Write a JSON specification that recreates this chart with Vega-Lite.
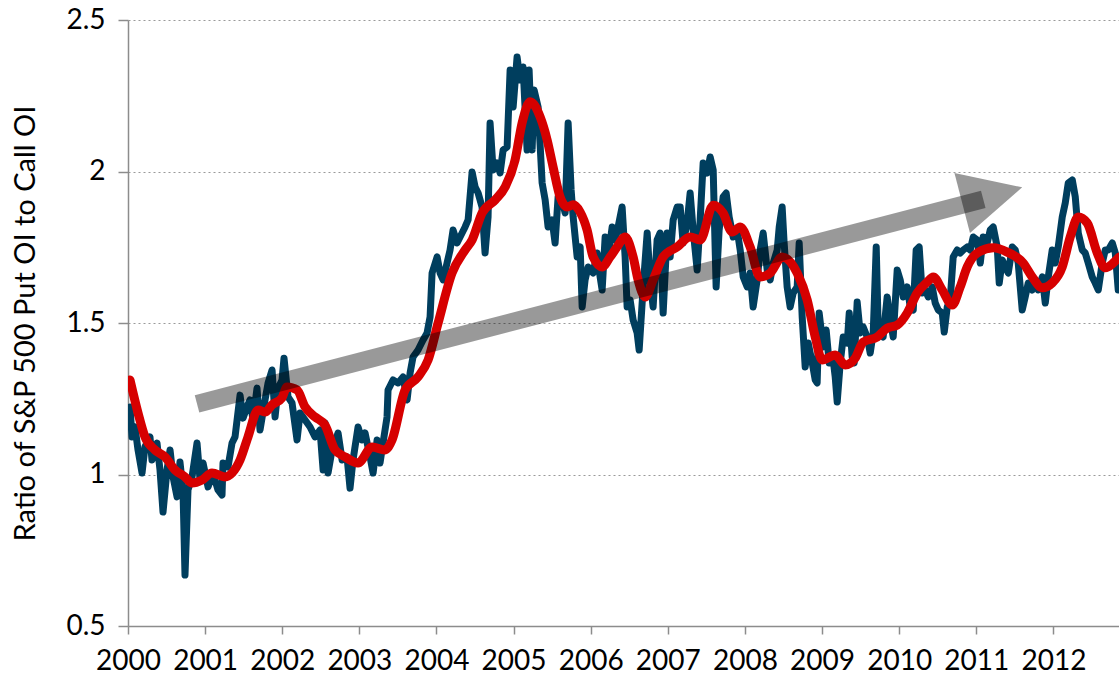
{
  "$schema": "https://vega.github.io/schema/vega-lite/v6.json",
  "width": 991,
  "height": 606,
  "autosize": {"type": "none"},
  "padding": {"left": 128, "top": 20, "right": 0, "bottom": 53},
  "background": "white",
  "config": {
    "view": {"stroke": null},
    "font": "Lato",
    "axis": {"labelFont": "Lato", "titleFont": "Lato", "labelColor": "#000", "titleColor": "#000", "domainColor": "#8c8c8c", "tickColor": "#8c8c8c", "domainWidth": 1.5, "tickWidth": 1.5}
  },
  "datasets": {
    "blue": [
      {"yr":2000.026,"v":1.223},{"yr":2000.052,"v":1.124},{"yr":2000.091,"v":1.157},{"yr":2000.130,"v":1.081},{"yr":2000.182,"v":1.005},{"yr":2000.220,"v":1.091},{"yr":2000.285,"v":1.124},{"yr":2000.311,"v":1.048},{"yr":2000.376,"v":1.104},{"yr":2000.415,"v":1.015},{"yr":2000.454,"v":0.876},{"yr":2000.506,"v":1.015},{"yr":2000.545,"v":1.081},{"yr":2000.584,"v":0.992},{"yr":2000.636,"v":0.926},{"yr":2000.674,"v":1.041},{"yr":2000.713,"v":0.949},{"yr":2000.739,"v":0.668},{"yr":2000.778,"v":0.949},{"yr":2000.830,"v":0.992},{"yr":2000.895,"v":1.104},{"yr":2000.934,"v":0.982},{"yr":2000.973,"v":1.038},{"yr":2001.038,"v":0.959},{"yr":2001.102,"v":1.005},{"yr":2001.167,"v":0.949},{"yr":2001.219,"v":0.932},{"yr":2001.232,"v":1.038},{"yr":2001.297,"v":1.025},{"yr":2001.349,"v":1.104},{"yr":2001.388,"v":1.124},{"yr":2001.453,"v":1.262},{"yr":2001.492,"v":1.186},{"yr":2001.543,"v":1.223},{"yr":2001.582,"v":1.246},{"yr":2001.621,"v":1.180},{"yr":2001.673,"v":1.285},{"yr":2001.712,"v":1.147},{"yr":2001.777,"v":1.246},{"yr":2001.816,"v":1.302},{"yr":2001.868,"v":1.345},{"yr":2001.907,"v":1.190},{"yr":2001.946,"v":1.285},{"yr":2001.997,"v":1.312},{"yr":2002.023,"v":1.384},{"yr":2002.075,"v":1.256},{"yr":2002.127,"v":1.236},{"yr":2002.192,"v":1.114},{"yr":2002.231,"v":1.203},{"yr":2002.296,"v":1.180},{"yr":2002.361,"v":1.157},{"yr":2002.425,"v":1.124},{"yr":2002.490,"v":1.147},{"yr":2002.530,"v":1.015},{"yr":2002.555,"v":1.170},{"yr":2002.594,"v":1.005},{"yr":2002.646,"v":1.081},{"yr":2002.724,"v":1.137},{"yr":2002.776,"v":1.048},{"yr":2002.840,"v":1.058},{"yr":2002.879,"v":0.955},{"yr":2002.918,"v":1.048},{"yr":2002.983,"v":1.157},{"yr":2003.035,"v":1.114},{"yr":2003.074,"v":1.137},{"yr":2003.139,"v":1.058},{"yr":2003.178,"v":1.005},{"yr":2003.230,"v":1.114},{"yr":2003.268,"v":1.038},{"yr":2003.307,"v":1.104},{"yr":2003.359,"v":1.190},{"yr":2003.372,"v":1.279},{"yr":2003.437,"v":1.312},{"yr":2003.502,"v":1.302},{"yr":2003.567,"v":1.322},{"yr":2003.619,"v":1.246},{"yr":2003.658,"v":1.335},{"yr":2003.696,"v":1.388},{"yr":2003.761,"v":1.411},{"yr":2003.826,"v":1.444},{"yr":2003.878,"v":1.467},{"yr":2003.917,"v":1.520},{"yr":2003.943,"v":1.665},{"yr":2004.008,"v":1.718},{"yr":2004.047,"v":1.665},{"yr":2004.086,"v":1.642},{"yr":2004.137,"v":1.698},{"yr":2004.176,"v":1.741},{"yr":2004.215,"v":1.807},{"yr":2004.267,"v":1.764},{"yr":2004.306,"v":1.784},{"yr":2004.371,"v":1.817},{"yr":2004.410,"v":1.840},{"yr":2004.462,"v":1.998},{"yr":2004.501,"v":1.949},{"yr":2004.540,"v":1.929},{"yr":2004.591,"v":1.883},{"yr":2004.630,"v":1.731},{"yr":2004.669,"v":1.850},{"yr":2004.695,"v":2.160},{"yr":2004.734,"v":2.005},{"yr":2004.786,"v":2.028},{"yr":2004.825,"v":1.995},{"yr":2004.864,"v":2.071},{"yr":2004.916,"v":2.081},{"yr":2004.955,"v":2.335},{"yr":2004.994,"v":2.213},{"yr":2005.045,"v":2.378},{"yr":2005.084,"v":2.302},{"yr":2005.123,"v":2.345},{"yr":2005.175,"v":2.071},{"yr":2005.201,"v":2.335},{"yr":2005.240,"v":2.071},{"yr":2005.266,"v":2.269},{"yr":2005.318,"v":2.213},{"yr":2005.370,"v":1.962},{"yr":2005.409,"v":1.906},{"yr":2005.447,"v":1.817},{"yr":2005.499,"v":1.840},{"yr":2005.538,"v":1.764},{"yr":2005.577,"v":1.916},{"yr":2005.629,"v":1.906},{"yr":2005.668,"v":1.863},{"yr":2005.707,"v":2.160},{"yr":2005.746,"v":1.939},{"yr":2005.772,"v":1.850},{"yr":2005.824,"v":1.718},{"yr":2005.863,"v":1.751},{"yr":2005.889,"v":1.553},{"yr":2005.927,"v":1.642},{"yr":2005.966,"v":1.685},{"yr":2006.031,"v":1.665},{"yr":2006.083,"v":1.731},{"yr":2006.122,"v":1.652},{"yr":2006.148,"v":1.609},{"yr":2006.187,"v":1.784},{"yr":2006.226,"v":1.718},{"yr":2006.278,"v":1.817},{"yr":2006.316,"v":1.774},{"yr":2006.355,"v":1.817},{"yr":2006.407,"v":1.883},{"yr":2006.446,"v":1.718},{"yr":2006.472,"v":1.553},{"yr":2006.511,"v":1.576},{"yr":2006.550,"v":1.510},{"yr":2006.602,"v":1.467},{"yr":2006.628,"v":1.411},{"yr":2006.680,"v":1.619},{"yr":2006.732,"v":1.797},{"yr":2006.770,"v":1.642},{"yr":2006.809,"v":1.553},{"yr":2006.861,"v":1.774},{"yr":2006.900,"v":1.797},{"yr":2006.939,"v":1.533},{"yr":2006.991,"v":1.797},{"yr":2007.030,"v":1.718},{"yr":2007.069,"v":1.840},{"yr":2007.121,"v":1.883},{"yr":2007.160,"v":1.883},{"yr":2007.198,"v":1.764},{"yr":2007.250,"v":1.830},{"yr":2007.289,"v":1.929},{"yr":2007.328,"v":1.807},{"yr":2007.380,"v":1.675},{"yr":2007.419,"v":1.840},{"yr":2007.458,"v":2.028},{"yr":2007.510,"v":1.995},{"yr":2007.549,"v":2.048},{"yr":2007.588,"v":2.005},{"yr":2007.626,"v":1.619},{"yr":2007.665,"v":1.807},{"yr":2007.717,"v":1.916},{"yr":2007.756,"v":1.929},{"yr":2007.795,"v":1.850},{"yr":2007.847,"v":1.784},{"yr":2007.899,"v":1.807},{"yr":2007.938,"v":1.741},{"yr":2007.977,"v":1.652},{"yr":2008.029,"v":1.619},{"yr":2008.067,"v":1.665},{"yr":2008.106,"v":1.553},{"yr":2008.158,"v":1.642},{"yr":2008.197,"v":1.741},{"yr":2008.236,"v":1.797},{"yr":2008.288,"v":1.675},{"yr":2008.327,"v":1.642},{"yr":2008.366,"v":1.698},{"yr":2008.418,"v":1.741},{"yr":2008.444,"v":1.817},{"yr":2008.482,"v":1.883},{"yr":2008.508,"v":1.764},{"yr":2008.547,"v":1.619},{"yr":2008.586,"v":1.553},{"yr":2008.625,"v":1.599},{"yr":2008.677,"v":1.619},{"yr":2008.703,"v":1.764},{"yr":2008.742,"v":1.520},{"yr":2008.781,"v":1.355},{"yr":2008.820,"v":1.434},{"yr":2008.872,"v":1.368},{"yr":2008.911,"v":1.312},{"yr":2008.936,"v":1.302},{"yr":2008.962,"v":1.533},{"yr":2009.014,"v":1.421},{"yr":2009.053,"v":1.477},{"yr":2009.092,"v":1.368},{"yr":2009.144,"v":1.378},{"yr":2009.170,"v":1.322},{"yr":2009.196,"v":1.239},{"yr":2009.235,"v":1.368},{"yr":2009.274,"v":1.454},{"yr":2009.326,"v":1.434},{"yr":2009.352,"v":1.533},{"yr":2009.390,"v":1.388},{"yr":2009.416,"v":1.368},{"yr":2009.455,"v":1.569},{"yr":2009.494,"v":1.467},{"yr":2009.533,"v":1.487},{"yr":2009.585,"v":1.454},{"yr":2009.624,"v":1.401},{"yr":2009.663,"v":1.467},{"yr":2009.702,"v":1.751},{"yr":2009.728,"v":1.477},{"yr":2009.792,"v":1.454},{"yr":2009.844,"v":1.586},{"yr":2009.883,"v":1.510},{"yr":2009.922,"v":1.454},{"yr":2009.974,"v":1.675},{"yr":2010.013,"v":1.642},{"yr":2010.052,"v":1.586},{"yr":2010.104,"v":1.619},{"yr":2010.143,"v":1.553},{"yr":2010.182,"v":1.543},{"yr":2010.220,"v":1.741},{"yr":2010.259,"v":1.751},{"yr":2010.298,"v":1.599},{"yr":2010.337,"v":1.609},{"yr":2010.376,"v":1.586},{"yr":2010.428,"v":1.619},{"yr":2010.467,"v":1.566},{"yr":2010.506,"v":1.543},{"yr":2010.558,"v":1.533},{"yr":2010.584,"v":1.470},{"yr":2010.623,"v":1.553},{"yr":2010.661,"v":1.576},{"yr":2010.700,"v":1.718},{"yr":2010.752,"v":1.741},{"yr":2010.791,"v":1.731},{"yr":2010.830,"v":1.741},{"yr":2010.882,"v":1.751},{"yr":2010.921,"v":1.741},{"yr":2010.960,"v":1.784},{"yr":2011.012,"v":1.774},{"yr":2011.051,"v":1.698},{"yr":2011.089,"v":1.784},{"yr":2011.141,"v":1.764},{"yr":2011.180,"v":1.807},{"yr":2011.219,"v":1.817},{"yr":2011.271,"v":1.751},{"yr":2011.297,"v":1.632},{"yr":2011.336,"v":1.708},{"yr":2011.375,"v":1.685},{"yr":2011.414,"v":1.665},{"yr":2011.466,"v":1.751},{"yr":2011.505,"v":1.741},{"yr":2011.543,"v":1.698},{"yr":2011.595,"v":1.543},{"yr":2011.634,"v":1.586},{"yr":2011.673,"v":1.632},{"yr":2011.725,"v":1.609},{"yr":2011.764,"v":1.642},{"yr":2011.803,"v":1.609},{"yr":2011.855,"v":1.652},{"yr":2011.894,"v":1.566},{"yr":2011.933,"v":1.652},{"yr":2011.984,"v":1.741},{"yr":2012.023,"v":1.698},{"yr":2012.062,"v":1.751},{"yr":2012.114,"v":1.850},{"yr":2012.153,"v":1.896},{"yr":2012.192,"v":1.962},{"yr":2012.244,"v":1.972},{"yr":2012.283,"v":1.916},{"yr":2012.322,"v":1.797},{"yr":2012.374,"v":1.741},{"yr":2012.412,"v":1.731},{"yr":2012.451,"v":1.698},{"yr":2012.503,"v":1.652},{"yr":2012.542,"v":1.632},{"yr":2012.581,"v":1.609},{"yr":2012.633,"v":1.698},{"yr":2012.672,"v":1.741},{"yr":2012.711,"v":1.741},{"yr":2012.763,"v":1.764},{"yr":2012.802,"v":1.731},{"yr":2012.840,"v":1.609}
    ],
    "red": [
      {"yr":2000.026,"v":1.312},{"yr":2000.130,"v":1.203},{"yr":2000.220,"v":1.124},{"yr":2000.350,"v":1.081},{"yr":2000.480,"v":1.058},{"yr":2000.610,"v":1.015},{"yr":2000.739,"v":0.992},{"yr":2000.830,"v":0.972},{"yr":2000.960,"v":0.982},{"yr":2001.089,"v":1.005},{"yr":2001.258,"v":0.992},{"yr":2001.349,"v":1.005},{"yr":2001.453,"v":1.048},{"yr":2001.556,"v":1.124},{"yr":2001.686,"v":1.213},{"yr":2001.777,"v":1.206},{"yr":2001.868,"v":1.230},{"yr":2001.997,"v":1.253},{"yr":2002.062,"v":1.289},{"yr":2002.192,"v":1.279},{"yr":2002.296,"v":1.223},{"yr":2002.425,"v":1.190},{"yr":2002.555,"v":1.163},{"yr":2002.685,"v":1.081},{"yr":2002.815,"v":1.058},{"yr":2002.983,"v":1.038},{"yr":2003.165,"v":1.091},{"yr":2003.333,"v":1.081},{"yr":2003.424,"v":1.114},{"yr":2003.593,"v":1.279},{"yr":2003.761,"v":1.322},{"yr":2003.891,"v":1.378},{"yr":2004.021,"v":1.500},{"yr":2004.202,"v":1.665},{"yr":2004.371,"v":1.741},{"yr":2004.462,"v":1.774},{"yr":2004.591,"v":1.863},{"yr":2004.760,"v":1.906},{"yr":2004.890,"v":1.949},{"yr":2005.019,"v":2.038},{"yr":2005.110,"v":2.160},{"yr":2005.214,"v":2.230},{"yr":2005.344,"v":2.180},{"yr":2005.435,"v":2.104},{"yr":2005.512,"v":2.015},{"yr":2005.603,"v":1.916},{"yr":2005.694,"v":1.883},{"yr":2005.772,"v":1.890},{"yr":2005.863,"v":1.866},{"yr":2005.953,"v":1.807},{"yr":2006.031,"v":1.718},{"yr":2006.148,"v":1.685},{"yr":2006.252,"v":1.718},{"yr":2006.342,"v":1.751},{"yr":2006.446,"v":1.784},{"yr":2006.550,"v":1.718},{"yr":2006.615,"v":1.642},{"yr":2006.706,"v":1.586},{"yr":2006.809,"v":1.642},{"yr":2006.939,"v":1.718},{"yr":2007.121,"v":1.751},{"yr":2007.289,"v":1.784},{"yr":2007.419,"v":1.774},{"yr":2007.588,"v":1.889},{"yr":2007.717,"v":1.863},{"yr":2007.834,"v":1.800},{"yr":2007.938,"v":1.817},{"yr":2008.067,"v":1.751},{"yr":2008.197,"v":1.652},{"yr":2008.327,"v":1.665},{"yr":2008.482,"v":1.718},{"yr":2008.677,"v":1.665},{"yr":2008.807,"v":1.576},{"yr":2008.911,"v":1.454},{"yr":2009.001,"v":1.378},{"yr":2009.170,"v":1.394},{"yr":2009.300,"v":1.361},{"yr":2009.429,"v":1.384},{"yr":2009.533,"v":1.437},{"yr":2009.715,"v":1.454},{"yr":2009.844,"v":1.483},{"yr":2009.974,"v":1.493},{"yr":2010.104,"v":1.533},{"yr":2010.233,"v":1.599},{"yr":2010.363,"v":1.635},{"yr":2010.441,"v":1.652},{"yr":2010.558,"v":1.609},{"yr":2010.687,"v":1.559},{"yr":2010.791,"v":1.619},{"yr":2010.882,"v":1.685},{"yr":2011.012,"v":1.731},{"yr":2011.219,"v":1.748},{"yr":2011.401,"v":1.734},{"yr":2011.608,"v":1.698},{"yr":2011.725,"v":1.652},{"yr":2011.855,"v":1.616},{"yr":2011.984,"v":1.632},{"yr":2012.114,"v":1.685},{"yr":2012.218,"v":1.784},{"yr":2012.322,"v":1.850},{"yr":2012.438,"v":1.830},{"yr":2012.568,"v":1.731},{"yr":2012.672,"v":1.682},{"yr":2012.776,"v":1.698},{"yr":2012.853,"v":1.718}
    ],
    "arrow": [{"x0": 2000.895, "y0": 1.233, "x1": 2011.09, "y1": 1.908}],
    "head": [{"yr": 2011.206, "v": 1.922}]
  },
  "layer": [
    {
      "data": {"name": "blue"},
      "mark": {"type": "line", "color": "#003E5E", "strokeWidth": 7, "strokeJoin": "round", "strokeCap": "round", "clip": true},
      "encoding": {
        "x": {"field": "yr", "type": "quantitative", "scale": {"domain": [2000, 2012.85], "nice": false, "zero": false},
          "axis": {"title": null, "values": [2000,2001,2002,2003,2004,2005,2006,2007,2008,2009,2010,2011,2012], "format": "d", "grid": false, "labelFontSize": 28, "tickSize": 8, "labelPadding": 13, "labelFlush": false}},
        "y": {"field": "v", "type": "quantitative", "scale": {"domain": [0.5, 2.5], "nice": false, "zero": false},
          "axis": {"title": "Ratio of S&P 500 Put OI to Call OI", "values": [0.5, 1, 1.5, 2, 2.5], "format": "~g", "grid": true, "gridColor": "#9a9a9a", "gridDash": [2, 3], "gridWidth": 1.2, "labelFontSize": 28, "tickSize": 10, "labelPadding": 13, "titleFontSize": 29, "titleFontWeight": "normal", "titleAngle": 270, "titleX": -103, "titleY": 303, "titleAlign": "center", "titleBaseline": "middle"}}
      }
    },
    {
      "data": {"name": "red"},
      "mark": {"type": "line", "color": "#D60000", "strokeWidth": 9, "interpolate": "monotone", "strokeJoin": "round", "strokeCap": "round", "clip": true},
      "encoding": {
        "x": {"field": "yr", "type": "quantitative"},
        "y": {"field": "v", "type": "quantitative"}
      }
    },
    {
      "data": {"name": "arrow"},
      "mark": {"type": "rule", "color": "#000", "opacity": 0.4, "strokeWidth": 18, "strokeCap": "butt"},
      "encoding": {
        "x": {"field": "x0", "type": "quantitative"},
        "y": {"field": "y0", "type": "quantitative"},
        "x2": {"field": "x1"},
        "y2": {"field": "y1"}
      }
    },
    {
      "data": {"name": "head"},
      "mark": {"type": "point", "shape": "M1,0L-1,-1L-1,1Z", "size": 3844, "angle": 345.5, "filled": true, "color": "#000", "opacity": 0.4, "strokeWidth": 0},
      "encoding": {
        "x": {"field": "yr", "type": "quantitative"},
        "y": {"field": "v", "type": "quantitative"}
      }
    }
  ]
}
